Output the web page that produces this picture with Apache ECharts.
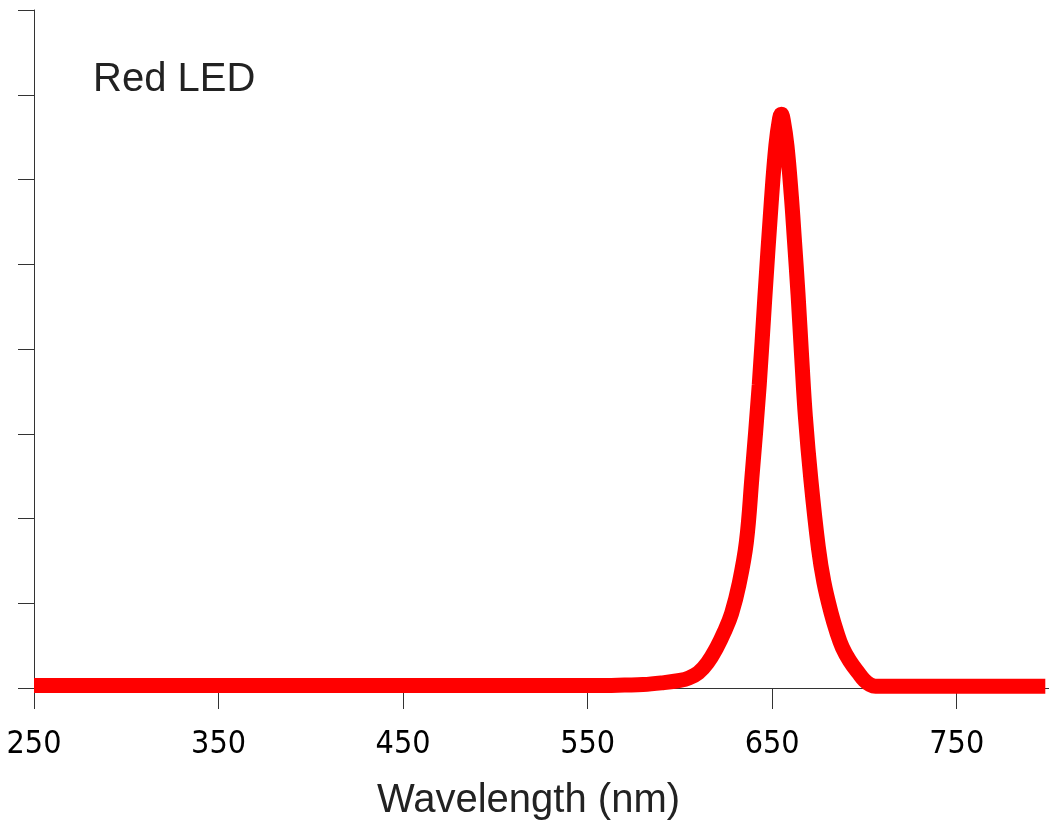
<!DOCTYPE html>
<html>
<head>
<meta charset="utf-8">
<script src="https://cdn.jsdelivr.net/npm/echarts@6/dist/echarts.min.js"></script>
<style>
  html, body { margin: 0; padding: 0; background: #fff; }
  #chart { width: 1049px; height: 824px; }
</style>
</head>
<body>
<div id="chart"></div>
<script>
// wavelength (nm) and relative intensity
const wavelength = [
  250, 260, 270, 280, 290, 300, 310, 320, 330, 340, 350, 360, 370, 380, 390,
  400, 410, 420, 430, 440, 450, 460, 470, 480, 490, 500, 510, 520, 530, 540,
  550, 560, 570, 580, 590, 600, 605, 610, 615, 620, 624, 628, 632, 636, 639,
  643, 646, 649.6, 652, 654, 655, 656, 658, 660.4, 662, 664, 666, 668, 671,
  675, 678, 682, 685, 688, 692, 697, 700, 703, 706, 710, 720, 730, 740, 750,
  760, 770, 780, 790, 798
]
const intensity = [
  0.03, 0.03, 0.03, 0.03, 0.03, 0.03, 0.03, 0.03, 0.03, 0.03, 0.03, 0.03, 0.03, 0.03, 0.03,
  0.03, 0.03, 0.03, 0.03, 0.03, 0.03, 0.03, 0.03, 0.03, 0.03, 0.03, 0.03, 0.03, 0.03, 0.03,
  0.03, 0.03, 0.035, 0.04, 0.06, 0.09, 0.12, 0.18, 0.3, 0.48, 0.66, 0.88, 1.22, 1.72, 2.48,
  3.58, 4.6, 5.76, 6.4, 6.72, 6.77, 6.7, 6.4, 5.8, 5.3, 4.65, 3.9, 3.2, 2.45,
  1.66, 1.25, 0.88, 0.66, 0.48, 0.32, 0.17, 0.09, 0.04, 0.02, 0.02, 0.02, 0.02, 0.02, 0.02,
  0.02, 0.02, 0.02, 0.02, 0.02
]
const xTicks = [250, 350, 450, 550, 650, 750]

const chart = echarts.init(document.getElementById('chart'))
chart.setOption({
  animation: false,
  title: {
    text: 'Red LED',
    left: 88,
    top: 55,
    textStyle: {
      fontFamily: 'Liberation Sans',
      fontWeight: 'normal',
      fontSize: 40,
      color: '#222'
    }
  },
  grid: {
    left: 34,
    right: 0,
    top: 10,
    bottom: 136,
    outerBoundsMode: 'none',
    containLabel: false
  },
  xAxis: {
    type: 'value',
    min: 250,
    max: 800,
    name: 'Wavelength (nm)',
    nameLocation: 'middle',
    nameGap: 93,
    nameTextStyle: {
      fontFamily: 'Liberation Sans',
      fontSize: 40,
      color: '#222',
      padding: [0, 26, 0, 0]
    },
    axisLine: { lineStyle: { color: '#333', width: 1 } },
    axisTick: {
      length: 21,
      customValues: xTicks,
      lineStyle: { color: '#333' }
    },
    axisLabel: {
      customValues: xTicks,
      margin: 41,
      fontFamily: 'DejaVu Sans Condensed',
      fontSize: 32,
      color: '#000'
    },
    splitLine: { show: false }
  },
  yAxis: {
    type: 'value',
    min: 0,
    max: 8,
    interval: 1,
    axisLine: { show: true, lineStyle: { color: '#333', width: 1 } },
    axisTick: { show: true, length: 16, lineStyle: { color: '#333' } },
    axisLabel: { show: false },
    splitLine: { show: false }
  },
  series: [
    {
      type: 'line',
      data: wavelength.map((w, i) => [w, intensity[i]]),
      showSymbol: false,
      smooth: 0.4,
      lineStyle: { color: '#ff0000', width: 15 }
    }
  ]
})
</script>
</body>
</html>
